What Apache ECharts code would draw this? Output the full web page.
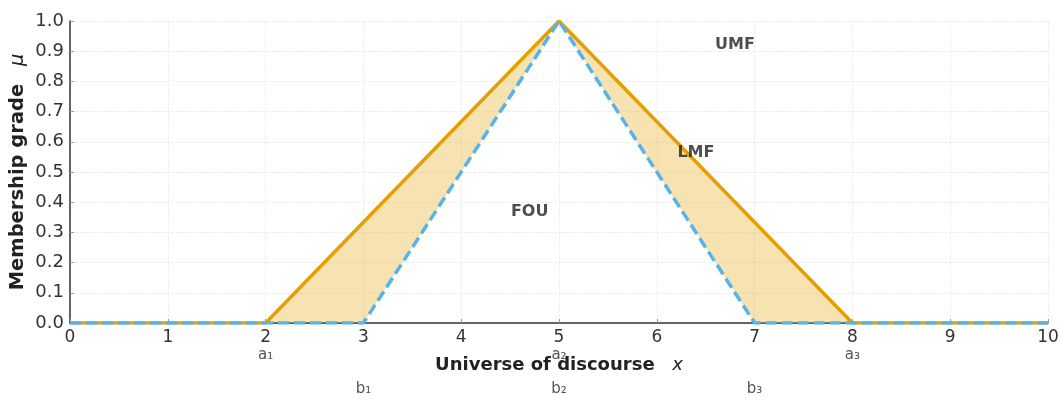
<!DOCTYPE html>
<html>
<head>
<meta charset="utf-8">
<script src="https://cdn.jsdelivr.net/npm/echarts@6/dist/echarts.min.js"></script>
<style>
  html, body { margin: 0; padding: 0; background: #fff; }
  #chart { width: 1062px; height: 400px; }
</style>
</head>
<body>
<div id="chart"></div>
<script>
// x positions 0..10 on the universe of discourse
var xCats = ['0', '1', '2', '3', '4', '5', '6', '7', '8', '9', '10'];
// vertices (x index) shared by both membership functions
var xs = [0, 2, 3, 5, 7, 8, 10];
var umf = [0, 0, 1 / 3, 1, 1 / 3, 0, 0];
var lmf = [0, 0, 0, 1, 0, 0, 0];
var yTicks = ['0.0', '0.1', '0.2', '0.3', '0.4', '0.5', '0.6', '0.7', '0.8', '0.9', '1.0'];
// parameter labels under the x axis
var aLabels = { '2': 'a₁', '5': 'a₂', '8': 'a₃' };
var bLabels = { '3': 'b₁', '5': 'b₂', '7': 'b₃' };
// text annotations [x, y, text]
var notes = [[6.8, 0.92, 'UMF'], [6.4, 0.565, 'LMF'], [4.7, 0.368, 'FOU']];

var chart = echarts.init(document.getElementById('chart'));

function pairs(vals) {
  return xs.map(function (x, i) { return [x, vals[i]]; });
}

function nameRich(size) {
  return {
    b: { fontSize: size, fontWeight: 'bold', color: '#222', fontFamily: 'DejaVu Sans' },
    i: { fontSize: size, fontStyle: 'italic', color: '#222', fontFamily: 'DejaVu Sans', padding: [0, 0, 0, 10] }
  };
}

var option = {
  animation: false,
  textStyle: { fontFamily: 'DejaVu Sans' },
  grid: { left: 70, right: 14, top: 21, bottom: 77, containLabel: false, outerBoundsMode: 'none' },
  xAxis: [{
    type: 'category',
    data: xCats,
    boundaryGap: false,
    name: '{b|Universe of discourse}  {i|x}',
    nameLocation: 'middle',
    nameGap: 33,
    nameMoveOverlap: false,
    nameTextStyle: { rich: nameRich(18) },
    axisLine: { lineStyle: { color: '#333', width: 1.5 } },
    axisTick: { inside: true, length: 4, alignWithLabel: true, interval: 0, lineStyle: { color: '#999' } },
    axisLabel: {
      interval: 0,
      margin: 6,
      verticalAlign: 'top',
      formatter: function (v) {
        var s = '{t|' + v + '}';
        if (aLabels[v] || bLabels[v]) s += '\n{a|' + (aLabels[v] || ' ') + '}';
        if (bLabels[v]) s += '\n{a| }\n{a|' + bLabels[v] + '}';
        return s;
      },
      rich: {
        t: { fontSize: 17, color: '#333', lineHeight: 18, fontFamily: 'DejaVu Sans' },
        a: { fontSize: 15, color: '#555', lineHeight: 17, fontFamily: 'DejaVu Sans' }
      }
    },
    splitLine: { show: true, interval: 0, lineStyle: { color: '#e8e8e8', type: 'dashed', width: 0.8 } }
  }, {
    type: 'value',
    min: 0,
    max: 10,
    show: false
  }],
  yAxis: {
    type: 'value',
    min: 0,
    max: 1,
    interval: 0.1,
    name: '{b|Membership grade}  {i|μ}',
    nameLocation: 'middle',
    nameGap: 42,
    nameMoveOverlap: false,
    nameTextStyle: { rich: nameRich(19.5) },
    axisLine: { show: true, lineStyle: { color: '#333', width: 1.5 } },
    axisTick: { show: true, inside: true, length: 4, lineStyle: { color: '#999' } },
    axisLabel: {
      fontSize: 18,
      color: '#333',
      margin: 6,
      formatter: function (v) { return yTicks[Math.round(v * 10)]; }
    },
    splitLine: { show: true, lineStyle: { color: '#e8e8e8', type: 'dashed', width: 0.8 } }
  },
  series: [
    {
      name: 'base',
      type: 'line',
      stack: 'fou',
      data: pairs(lmf),
      symbol: 'none',
      lineStyle: { opacity: 0 },
      z: 1
    },
    {
      name: 'FOU',
      type: 'line',
      stack: 'fou',
      data: pairs(umf.map(function (u, i) { return u - lmf[i]; })),
      symbol: 'none',
      lineStyle: { opacity: 0 },
      areaStyle: { color: 'rgba(230,159,0,0.3)', opacity: 1 },
      z: 1
    },
    {
      name: 'UMF',
      type: 'line',
      data: pairs(umf),
      symbol: 'none',
      lineStyle: { color: '#E69F00', width: 3.5 },
      z: 3
    },
    {
      name: 'LMF',
      type: 'line',
      data: pairs(lmf),
      symbol: 'none',
      lineStyle: { color: '#56B4E9', width: 3.5, type: [11, 5] },
      z: 4
    },
    {
      name: 'notes',
      type: 'scatter',
      xAxisIndex: 1,
      data: notes.map(function (n) { return [n[0], n[1], n[2]]; }),
      symbolSize: 0,
      label: {
        show: true,
        position: 'inside',
        formatter: function (p) { return p.value[2]; },
        fontSize: 16,
        fontWeight: 'bold',
        color: '#222',
        fontFamily: 'DejaVu Sans'
      },
      z: 5
    }
  ]
};

chart.setOption(option);
</script>
</body>
</html>
